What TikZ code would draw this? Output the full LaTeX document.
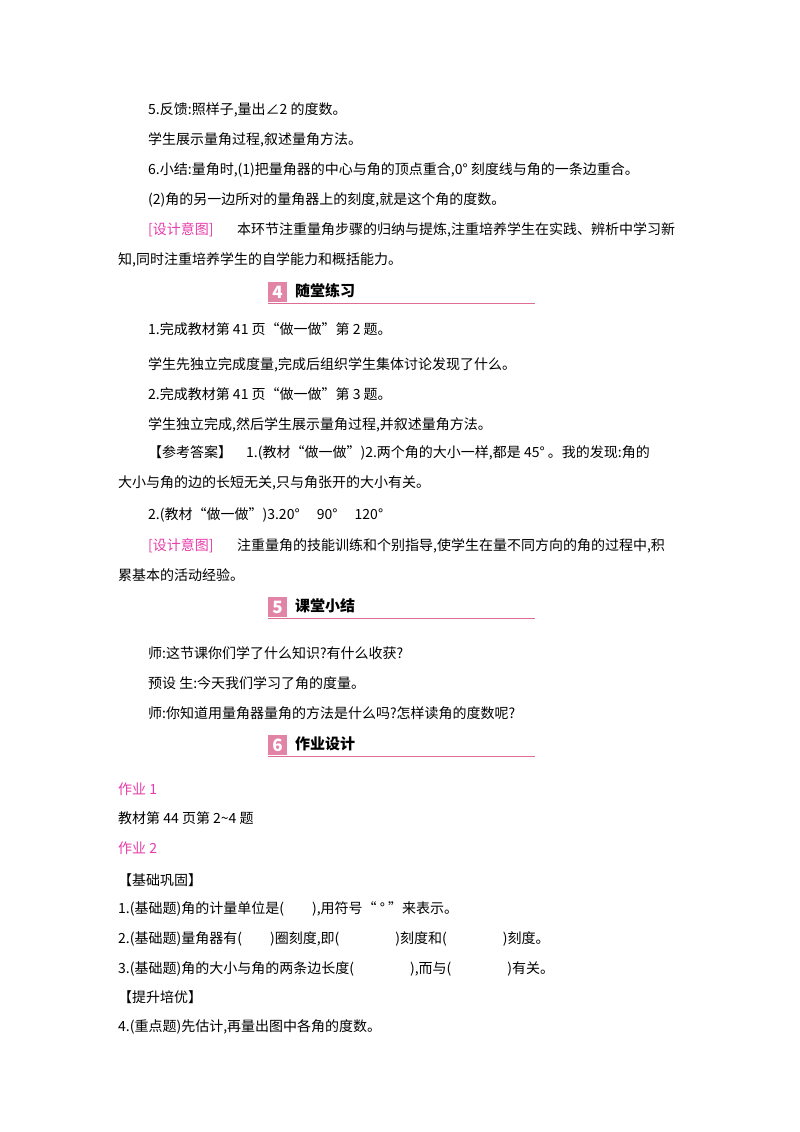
\documentclass[tikz,border=0pt]{standalone}
\usepackage{fontspec}
\setmainfont{Noto Sans CJK SC}
\definecolor{pk}{RGB}{230,60,170}
\definecolor{hd}{RGB}{220,110,150}
\begin{document}
\begin{tikzpicture}[x=1pt,y=-1pt,
  t/.style={anchor=base west,inner sep=0pt,font=\fontsize{14}{16}\selectfont},
  p/.style={t,text=pk}]
\useasboundingbox (0,0) rectangle (800,1132);
\node[t] (l1) at (148,114) {5.反馈:照样子,量出∠2 的度数。};
\node[t] (l2) at (148,144) {学生展示量角过程,叙述量角方法。};
\node[t] (l3) at (148,174) {6.小结:量角时,(1)把量角器的中心与角的顶点重合,0° 刻度线与角的一条边重合。};
\node[t] (l4) at (148,204) {(2)角的另一边所对的量角器上的刻度,就是这个角的度数。};
\node[p] (d1) at (148,234) {[设计意图]};
\node[t] (l5) at (237,234) {本环节注重量角步骤的归纳与提炼,注重培养学生在实践、辨析中学习新};
\node[t] (l6) at (118,264) {知,同时注重培养学生的自学能力和概括能力。};
\foreach \n/\y/\s in {4/292/随堂练习,5/607/课堂小结,6/745/作业设计}{
  \fill[hd!85] (268,\y-10) rectangle (287,\y+10);
  \node[text=white,font=\bfseries\itshape\fontsize{17}{17}\selectfont] (n\n) at (277.5,\y) {\n};
  \node[anchor=west,font=\bfseries\fontsize{15}{17}\selectfont,inner sep=0pt] (h\n) at (295,\y-1) {\s};
  \draw[hd,line width=0.8pt] (268,\y+11) -- (535,\y+11);
}
\node[t] (a1) at (148,334) {1.完成教材第 41 页“做一做”第 2 题。};
\node[t] (a2) at (148,369) {学生先独立完成度量,完成后组织学生集体讨论发现了什么。};
\node[t] (a3) at (148,399) {2.完成教材第 41 页“做一做”第 3 题。};
\node[t] (a4) at (148,429) {学生独立完成,然后学生展示量角过程,并叙述量角方法。};
\node[t] (a5) at (148,457) {【参考答案】\quad 1.(教材“做一做”)2.两个角的大小一样,都是 45° 。我的发现:角的};
\node[t] (a6) at (118,487) {大小与角的边的长短无关,只与角张开的大小有关。};
\node[t] (a7) at (148,519) {2.(教材“做一做”)3.20°\quad\ 90°\quad\ 120°};
\node[p] (d2) at (148,550) {[设计意图]};
\node[t] (a8) at (237,550) {注重量角的技能训练和个别指导,使学生在量不同方向的角的过程中,积};
\node[t] (a9) at (118,580) {累基本的活动经验。};
\node[t] (b1) at (148,658) {师:这节课你们学了什么知识?有什么收获?};
\node[t] (b2) at (148,688) {预设\ 生:今天我们学习了角的度量。};
\node[t] (b3) at (148,718) {师:你知道用量角器量角的方法是什么吗?怎样读角的度数呢?};
\node[p] (c1) at (118,794) {作业 1};
\node[t] (c2) at (118,823) {教材第 44 页第 2\textasciitilde4 题};
\node[p] (c3) at (118,853) {作业 2};
\node[t] (c4) at (118,885) {【基础巩固】};
\node[t] (c5) at (118,913) {1.(基础题)角的计量单位是(\hspace{2em}),用符号“ ° ”来表示。};
\node[t] (c6) at (118,943) {2.(基础题)量角器有(\hspace{2em})圈刻度,即(\hspace{4em})刻度和(\hspace{4em})刻度。};
\node[t] (c7) at (118,973) {3.(基础题)角的大小与角的两条边长度(\hspace{4em}),而与(\hspace{4em})有关。};
\node[t] (c8) at (118,1002) {【提升培优】};
\node[t] (c9) at (118,1031) {4.(重点题)先估计,再量出图中各角的度数。};
\end{tikzpicture}
\end{document}
